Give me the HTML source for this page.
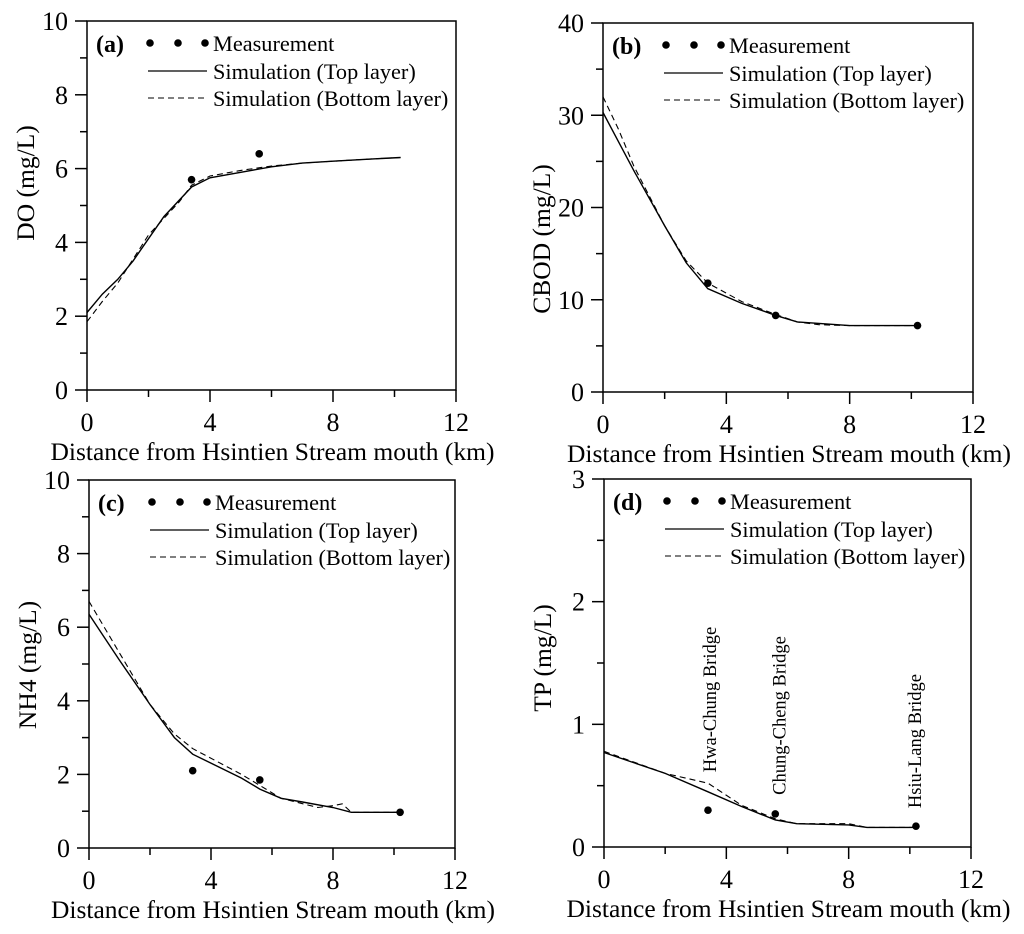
<!DOCTYPE html>
<html><head><meta charset="utf-8"><style>
html,body{margin:0;padding:0;background:#fff;}
svg{display:block;font-family:"Liberation Serif",serif;}
</style></head><body>
<svg id="fig" width="1024" height="934" viewBox="0 0 1024 934" xmlns="http://www.w3.org/2000/svg"></svg>
<script>
const measX = [3.4, 5.6, 10.2];
const xTicks = [0, 4, 8, 12];
// (a) DO
const doMeas = [5.7, 6.4, null];
const doTopX = [0,0.5,1,1.5,2,2.5,3.4,4,5,6,7,8,9,10.2];
const doTopY = [2.1,2.6,3.0,3.5,4.1,4.7,5.5,5.75,5.9,6.05,6.15,6.2,6.25,6.3];
const doBotX = [0,0.5,1,2,3,3.4,4,5,6,7,8,9,10.2];
const doBotY = [1.85,2.4,2.9,4.2,5.1,5.55,5.8,5.95,6.07,6.15,6.2,6.25,6.3];
const doTicks = [0,2,4,6,8,10];
// (b) CBOD
const cbodMeas = [11.8, 8.3, 7.2];
const cbodTopX = [0,1,2,2.7,3.4,4.5,5.6,6.3,8,10.2];
const cbodTopY = [30.3,24,18,14,11.2,9.6,8.3,7.6,7.2,7.2];
const cbodBotX = [0,0.5,1,2,2.7,3.4,4.5,5.6,6.3,7,8,10.2];
const cbodBotY = [32,28.5,24.5,18,14.2,11.8,9.8,8.4,7.6,7.3,7.2,7.2];
const cbodTicks = [0,10,20,30,40];
// (c) NH4
const nh4Meas = [2.1, 1.85, 0.97];
const nh4TopX = [0,1,2,2.8,3.4,5,5.6,6.3,7,8,8.6,10.2];
const nh4TopY = [6.35,5.1,3.9,3.0,2.55,1.9,1.6,1.35,1.25,1.1,0.97,0.97];
const nh4BotX = [0,1,2,2.8,3.4,5,5.6,6.3,7.5,8,8.3,8.6,10.2];
const nh4BotY = [6.7,5.3,3.9,3.1,2.7,2.0,1.7,1.35,1.1,1.15,1.2,0.97,0.97];
const nh4Ticks = [0,2,4,6,8,10];
// (d) TP
const tpMeas = [0.3, 0.27, 0.17];
const tpTopX = [0,2,3.4,4.5,5.6,6.3,8,8.6,10.2];
const tpTopY = [0.77,0.6,0.45,0.33,0.22,0.19,0.18,0.16,0.16];
const tpBotX = [0,2,3.4,4.5,5.6,6.3,8,8.6,10.2];
const tpBotY = [0.78,0.6,0.52,0.34,0.23,0.19,0.19,0.16,0.16];
const tpTicks = [0,1,2,3];
const bridgeNames = ["Hwa-Chung Bridge","Chung-Cheng Bridge","Hsiu-Lang Bridge"];
const bridgeKm = [3.4, 5.6, 10.2];
const bridgeVal = [0.3, 0.27, 0.17];

const NS = "http://www.w3.org/2000/svg";
const svg = document.getElementById('fig');
function el(tag, attrs, parent, text){
  const e = document.createElementNS(NS, tag);
  for (const k in attrs) e.setAttribute(k, attrs[k]);
  if (text !== undefined) e.textContent = text;
  (parent||svg).appendChild(e);
  return e;
}

const panels = [
  {id:'a', L:87, R:456, T:21, B:390, ymax:10, yMinor:1, yt:doTicks, title:'DO (mg/L)', tc:183, meas:doMeas, tx:doTopX, ty:doTopY, bx:doBotX, by:doBotY},
  {id:'b', L:603, R:973, T:23, B:392, ymax:40, yMinor:5, yt:cbodTicks, title:'CBOD (mg/L)', tc:239, meas:cbodMeas, tx:cbodTopX, ty:cbodTopY, bx:cbodBotX, by:cbodBotY},
  {id:'c', L:89, R:455, T:480, B:848, ymax:10, yMinor:1, yt:nh4Ticks, title:'NH4 (mg/L)', tc:665, meas:nh4Meas, tx:nh4TopX, ty:nh4TopY, bx:nh4BotX, by:nh4BotY},
  {id:'d', L:604, R:971, T:479, B:847, ymax:3, yMinor:0.5, yt:tpTicks, title:'TP (mg/L)', tc:658, meas:tpMeas, tx:tpTopX, ty:tpTopY, bx:tpBotX, by:tpBotY}
];
const bridgeDx = [8, 10, 5];
const bridgeDy = [-38, -19, -18];

panels.forEach(p => {
  const g = el('g', {});
  
  
  const sx = v => p.L + v/12*(p.R-p.L);
  const sy = v => p.B - v/p.ymax*(p.B-p.T);
  const frame = el('rect', {x:p.L, y:p.T, width:p.R-p.L, height:p.B-p.T, fill:'none', stroke:'#000', 'stroke-width':1.5}, g);
  
  
  for (let v=0; v<=12; v+=2){
    const major = v%4===0;
    el('line', {x1:sx(v), x2:sx(v), y1:p.B, y2:p.B+(major?12:7), stroke:'#000', 'stroke-width':1.5}, g);
  }
  xTicks.forEach(v => {
    const t = el('text', {x:sx(v), y:p.B+41, 'text-anchor':'middle', 'font-size':26}, g, String(v));
    
    
  });
  for (let v=0; v<=p.ymax+1e-9; v+=p.yMinor){
    const major = p.yt.some(t => Math.abs(t-v)<1e-9);
    el('line', {x1:p.L-(major?12:7), x2:p.L, y1:sy(v), y2:sy(v), stroke:'#000', 'stroke-width':1.5}, g);
  }
  p.yt.forEach(v => {
    const t = el('text', {x:p.L-19, y:sy(v)+9, 'text-anchor':'end', 'font-size':26}, g, String(v));
    
    
  });
  const xt = el('text', {x:(p.L+p.R)/2+1, y:p.B+70, 'text-anchor':'middle', 'font-size':25.5}, g, 'Distance from Hsintien Stream mouth (km)');
  
  
  const ycx = p.L - 53, ycy = p.tc;
  const yt = el('text', {x:ycx, y:ycy, 'text-anchor':'middle', 'font-size':25.5, transform:`rotate(-90 ${ycx} ${ycy})`}, g, p.title);
  
  
  const pts = (xs, ys) => xs.map((x,i)=> sx(x).toFixed(1)+','+sy(ys[i]).toFixed(1)).join(' ');
  const top = el('polyline', {points:pts(p.tx,p.ty), fill:'none', stroke:'#000', 'stroke-width':1.4}, g);
  
  
  const bot = el('polyline', {points:pts(p.bx,p.by), fill:'none', stroke:'#000', 'stroke-width':1.1, 'stroke-dasharray':'6,4'}, g);
  
  
  p.meas.forEach((v,i) => {
    if (v === null) return;
    const c = el('circle', {cx:sx(measX[i]), cy:sy(v), r:3.8, fill:'#000'}, g);
    
    
  });
  const ox = p.L, oy = p.T;
  const lab = el('text', {x:ox+9, y:oy+31, 'font-size':24, 'font-weight':'bold'}, g, '('+p.id+')');
  
  
  const lg = el('g', {}, g);
  
  
  [63,91,118].forEach(dx => el('circle', {cx:ox+dx, cy:oy+22, r:3.8, fill:'#000'}, lg));
  el('text', {x:ox+126, y:oy+30, 'font-size':22.3}, lg, 'Measurement');
  el('line', {x1:ox+61, x2:ox+120, y1:oy+50, y2:oy+50, stroke:'#000', 'stroke-width':1.3}, lg);
  el('text', {x:ox+126, y:oy+58, 'font-size':22.3}, lg, 'Simulation (Top layer)');
  el('line', {x1:ox+61, x2:ox+120, y1:oy+77, y2:oy+77, stroke:'#000', 'stroke-width':1.1, 'stroke-dasharray':'6,4'}, lg);
  el('text', {x:ox+126, y:oy+85, 'font-size':22.3}, lg, 'Simulation (Bottom layer)');
  if (p.id === 'd'){
    bridgeNames.forEach((n,i) => {
      const bx = sx(bridgeKm[i]) + bridgeDx[i], by = sy(bridgeVal[i]) + bridgeDy[i];
      const t = el('text', {x:bx, y:by, 'font-size':18.5, transform:`rotate(-90 ${bx} ${by})`}, g, n);
      
      
    });
  }
});
</script>
</body></html>
